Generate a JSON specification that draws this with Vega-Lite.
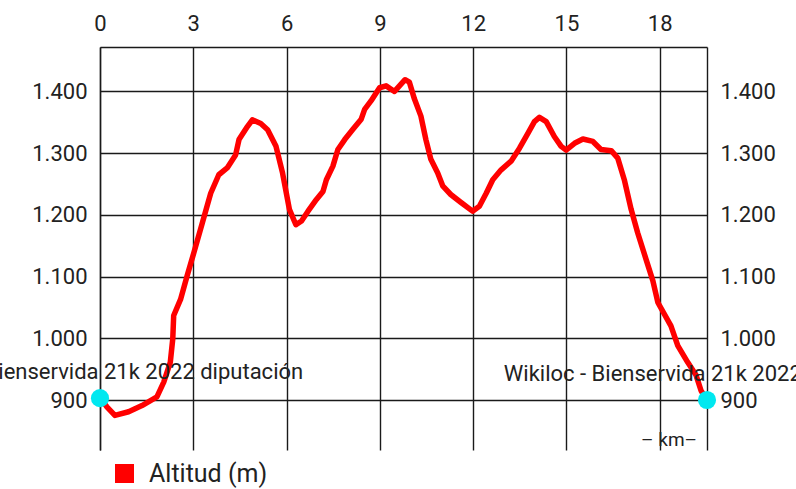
{
  "$schema": "https://vega.github.io/schema/vega-lite/v6.json",
  "autosize": "none",
  "width": 607,
  "height": 403,
  "padding": {"left": 100, "top": 47, "right": 89, "bottom": 39},
  "background": "white",
  "datasets": {
    "track": [
      {"km": 0, "alt": 903}, {"km": 0.22, "alt": 889}, {"km": 0.48, "alt": 875}, {"km": 0.92, "alt": 881},
      {"km": 1.35, "alt": 891}, {"km": 1.83, "alt": 905}, {"km": 2.05, "alt": 929}, {"km": 2.26, "alt": 961},
      {"km": 2.34, "alt": 999}, {"km": 2.37, "alt": 1037}, {"km": 2.59, "alt": 1063}, {"km": 2.8, "alt": 1101},
      {"km": 3.02, "alt": 1139}, {"km": 3.29, "alt": 1187}, {"km": 3.56, "alt": 1235}, {"km": 3.82, "alt": 1265},
      {"km": 4.09, "alt": 1276}, {"km": 4.36, "alt": 1297}, {"km": 4.47, "alt": 1322}, {"km": 4.74, "alt": 1343},
      {"km": 4.9, "alt": 1354}, {"km": 5.17, "alt": 1348}, {"km": 5.39, "alt": 1338}, {"km": 5.66, "alt": 1311},
      {"km": 5.87, "alt": 1268}, {"km": 6.09, "alt": 1209}, {"km": 6.3, "alt": 1184}, {"km": 6.48, "alt": 1190},
      {"km": 6.69, "alt": 1206}, {"km": 6.96, "alt": 1225}, {"km": 7.17, "alt": 1238}, {"km": 7.28, "alt": 1257},
      {"km": 7.49, "alt": 1279}, {"km": 7.65, "alt": 1306}, {"km": 7.87, "alt": 1322}, {"km": 8.14, "alt": 1339},
      {"km": 8.4, "alt": 1355}, {"km": 8.51, "alt": 1371}, {"km": 8.72, "alt": 1385}, {"km": 8.99, "alt": 1406},
      {"km": 9.2, "alt": 1409}, {"km": 9.47, "alt": 1400}, {"km": 9.63, "alt": 1409}, {"km": 9.81, "alt": 1419},
      {"km": 9.95, "alt": 1415}, {"km": 10.11, "alt": 1388}, {"km": 10.32, "alt": 1360}, {"km": 10.48, "alt": 1322},
      {"km": 10.64, "alt": 1290}, {"km": 10.86, "alt": 1268}, {"km": 11.02, "alt": 1247}, {"km": 11.28, "alt": 1233},
      {"km": 11.61, "alt": 1220}, {"km": 11.98, "alt": 1206}, {"km": 12.2, "alt": 1214}, {"km": 12.42, "alt": 1235},
      {"km": 12.63, "alt": 1257}, {"km": 12.9, "alt": 1273}, {"km": 13.22, "alt": 1287}, {"km": 13.49, "alt": 1308},
      {"km": 13.76, "alt": 1332}, {"km": 13.97, "alt": 1351}, {"km": 14.13, "alt": 1358}, {"km": 14.35, "alt": 1351},
      {"km": 14.61, "alt": 1327}, {"km": 14.83, "alt": 1311}, {"km": 14.99, "alt": 1305}, {"km": 15.26, "alt": 1316},
      {"km": 15.53, "alt": 1323}, {"km": 15.85, "alt": 1319}, {"km": 16.11, "alt": 1306}, {"km": 16.44, "alt": 1304},
      {"km": 16.65, "alt": 1292}, {"km": 16.86, "alt": 1257}, {"km": 17.08, "alt": 1209}, {"km": 17.29, "alt": 1171},
      {"km": 17.56, "alt": 1128}, {"km": 17.78, "alt": 1093}, {"km": 17.94, "alt": 1058}, {"km": 18.36, "alt": 1020},
      {"km": 18.58, "alt": 988}, {"km": 18.9, "alt": 961}, {"km": 19.17, "alt": 940}, {"km": 19.33, "alt": 915},
      {"km": 19.52, "alt": 900}
    ],
    "ends": [
      {"km": 0, "alt": 903, "name": "Wikiloc - Bienservida 21k 2022 diputación"},
      {"km": 19.52, "alt": 900, "name": "Wikiloc - Bienservida 21k 2022 diputación"}
    ]
  },
  "layer": [
    {
      "data": {"name": "track"},
      "mark": {"type": "line", "strokeWidth": 5.5, "strokeCap": "round", "strokeJoin": "round"},
      "encoding": {
        "x": {"field": "km", "type": "quantitative",
              "scale": {"domain": [0, 19.52], "nice": false, "zero": false},
              "axis": {"orient": "top", "values": [0, 3, 6, 9, 12, 15, 18], "title": null, "labelPadding": 12, "labelFlush": false}},
        "y": {"field": "alt", "type": "quantitative",
              "scale": {"domain": [819, 1472], "nice": false, "zero": false},
              "axis": {"orient": "left", "values": [900, 1000, 1100, 1200, 1300, 1400], "format": ",d", "title": null, "labelPadding": 13}},
        "color": {"datum": "Altitud (m)", "type": "nominal",
                  "scale": {"range": ["#ff0000"]},
                  "legend": {"orient": "none", "legendX": 12, "legendY": 414, "symbolType": "square", "symbolSize": 360,
                             "symbolFillColor": "#ff0000", "symbolStrokeColor": "#ff0000", "symbolStrokeWidth": 0,
                             "labelFontSize": 25, "labelOffset": 12, "labelColor": "#222", "title": null, "padding": 0}}
      }
    },
    {
      "data": {"name": "ends"},
      "mark": {"type": "circle", "size": 330, "color": "#00e8f0", "opacity": 1},
      "encoding": {
        "x": {"field": "km", "type": "quantitative"},
        "y": {"field": "alt", "type": "quantitative",
              "axis": {"orient": "right", "values": [900, 1000, 1100, 1200, 1300, 1400], "format": ",d", "title": null, "grid": false, "labelPadding": 13}}
      }
    },
    {
      "data": {"name": "ends"},
      "mark": {"type": "text", "fontSize": 22, "dy": -19, "baseline": "alphabetic", "align": "center", "color": "#222", "font": "Roboto"},
      "encoding": {
        "x": {"field": "km", "type": "quantitative"},
        "y": {"field": "alt", "type": "quantitative", "axis": null},
        "text": {"field": "name"}
      }
    },
    {
      "data": {"values": [{"t": "– km–"}]},
      "mark": {"type": "text", "fontSize": 19, "color": "#222", "font": "Roboto", "baseline": "middle"},
      "encoding": {
        "x": {"datum": 18.3, "type": "quantitative"},
        "y": {"datum": 836, "type": "quantitative", "axis": null},
        "text": {"field": "t"}
      }
    }
  ],
  "resolve": {"axis": {"y": "independent"}},
  "config": {
    "locale": {"number": {"decimal": ",", "thousands": ".", "grouping": [3], "currency": ["", " €"]}},
    "view": {"stroke": null},
    "font": "Roboto",
    "axis": {
      "grid": true, "gridColor": "#1a1a1a", "gridWidth": 1.4, "gridOpacity": 1,
      "domain": true, "domainColor": "#1a1a1a", "domainWidth": 1.4,
      "ticks": false, "labelFontSize": 22, "labelColor": "#222", "labelFont": "Roboto", "labelFontWeight": "normal"
    },
    "legend": {"labelFont": "Roboto"}
  }
}
